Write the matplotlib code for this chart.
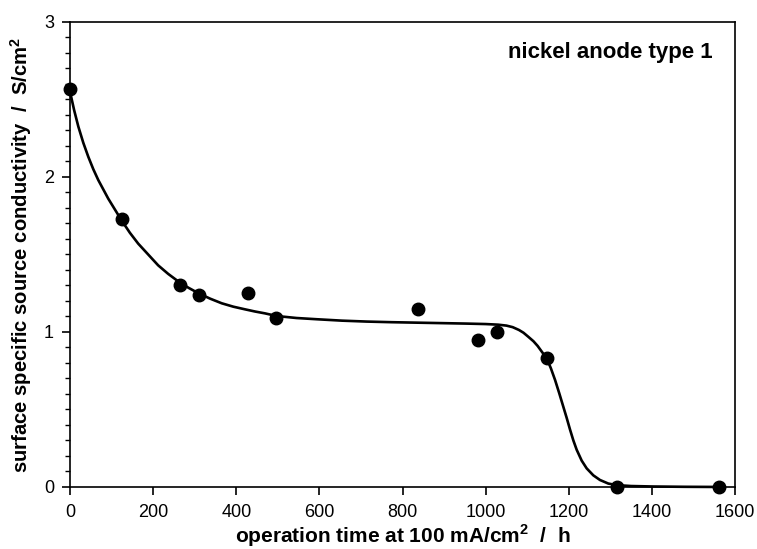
import matplotlib
matplotlib.use('Agg')
import matplotlib.pyplot as plt
from matplotlib.ticker import MultipleLocator

plt.rcParams['font.family'] = ['Liberation Sans', 'DejaVu Sans']
plt.rcParams['mathtext.fontset'] = 'custom'
plt.rcParams['mathtext.rm'] = 'Liberation Sans'
plt.rcParams['mathtext.bf'] = 'Liberation Sans:bold'

# measured points
time_h = [0, 124, 265, 310, 429, 496, 838, 981, 1028, 1147, 1315, 1562]
conductivity = [2.57, 1.73, 1.30, 1.24, 1.25, 1.09, 1.15, 0.95, 1.00, 0.83, 0.0, 0.0]

# fitted curve
fit_time = [0, 10, 20, 32, 44, 56, 68, 80, 92, 108, 124, 144, 164, 188, 212, 236,
            261, 285, 309, 337, 365, 393, 421, 445, 469, 497, 545, 594, 654, 714,
            774, 834, 894, 954, 1000, 1030, 1050, 1065, 1080, 1091, 1103, 1115, 1125,
            1135, 1147, 1157, 1167, 1177, 1186, 1195, 1203, 1211, 1219, 1231, 1243,
            1259, 1275, 1295, 1315, 1350, 1403, 1480, 1562]
fit_cond = [2.55, 2.43, 2.325, 2.22, 2.13, 2.05, 1.98, 1.92, 1.86, 1.79, 1.72, 1.64,
            1.57, 1.50, 1.43, 1.375, 1.325, 1.285, 1.25, 1.215, 1.185, 1.163, 1.146,
            1.132, 1.12, 1.103, 1.09, 1.082, 1.073, 1.067, 1.063, 1.06, 1.057, 1.054,
            1.051, 1.047, 1.041, 1.031, 1.013, 0.995, 0.968, 0.94, 0.91, 0.873, 0.83,
            0.765, 0.69, 0.605, 0.525, 0.445, 0.37, 0.30, 0.24, 0.17, 0.12, 0.075,
            0.045, 0.022, 0.012, 0.006, 0.003, 0.001, 0.0]

fig = plt.figure(figsize=(7.57, 5.49), dpi=100)
ax = fig.add_axes([0.0925, 0.113, 0.8785, 0.847])

ax.plot(fit_time, fit_cond, color='black', lw=1.9, zorder=2, clip_on=False,
        solid_joinstyle='round')
ax.plot(time_h, conductivity, 'o', color='black', ms=9, zorder=3, clip_on=False)

ax.set_xlim(0, 1600)
ax.set_ylim(0, 3)
ax.xaxis.set_major_locator(MultipleLocator(200))
ax.yaxis.set_major_locator(MultipleLocator(1))
ax.yaxis.set_minor_locator(MultipleLocator(0.1))
ax.tick_params(axis='both', which='major', direction='out', length=5.5, width=1.2,
               labelsize=13)
ax.tick_params(axis='x', which='major', pad=7)
ax.tick_params(axis='y', which='major', pad=6)
ax.tick_params(axis='y', which='minor', direction='out', length=3.5, width=1.0)
for s in ax.spines.values():
    s.set_linewidth(1.2)

ax.set_xlabel(r'operation time at 100 mA/cm$^{\mathbf{2}}$  /  h', fontsize=15,
              fontweight='bold', labelpad=1)
ax.set_ylabel(r'surface specific source conductivity  /  S/cm$^{\mathbf{2}}$',
              fontsize=14.6, fontweight='bold', labelpad=7)

ax.text(0.967, 0.935, 'nickel anode type 1', transform=ax.transAxes,
        ha='right', va='center', fontsize=16, fontweight='bold')

fig.savefig('out.png', dpi=100)
